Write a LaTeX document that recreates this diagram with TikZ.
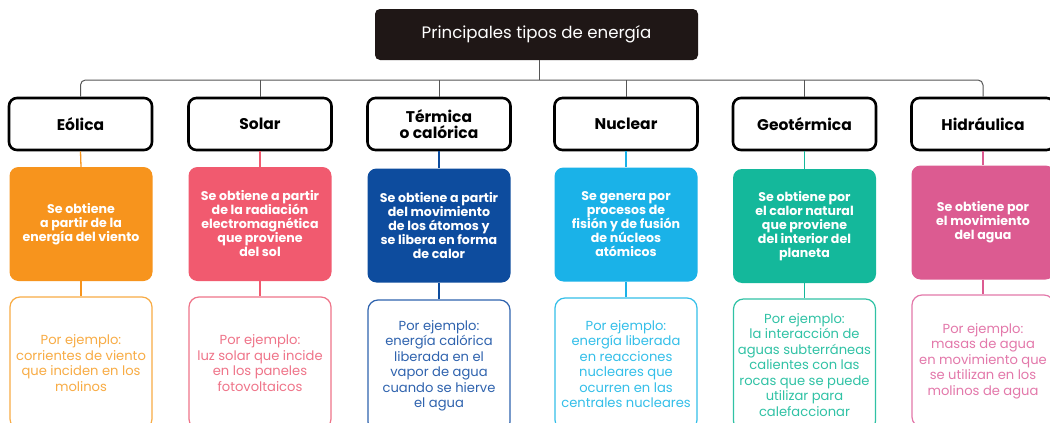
\documentclass[tikz,border=0pt]{standalone}
\usepackage{fontspec}
\setmainfont{Poppins}
\definecolor{ttl}{HTML}{1F1716}
\definecolor{cEol}{HTML}{F7941D}
\definecolor{cSol}{HTML}{F15A6F}
\definecolor{cTer}{HTML}{0D4C9E}
\definecolor{cNuc}{HTML}{1AB2E8}
\definecolor{cGeo}{HTML}{14B89B}
\definecolor{cHid}{HTML}{DC5B91}
\definecolor{lEol}{HTML}{F8AC45}
\definecolor{lSol}{HTML}{EF7489}
\definecolor{lTer}{HTML}{2F63AE}
\definecolor{lNuc}{HTML}{34BFE9}
\definecolor{lGeo}{HTML}{30C2A5}
\definecolor{lHid}{HTML}{E378AA}
\definecolor{bus}{HTML}{555555}
\begin{document}
\begin{tikzpicture}[x=1pt,y=-1pt,
  titlebox/.style={fill=ttl,rounded corners=5pt,minimum width=323pt,minimum height=51pt,inner sep=0pt,text=white,font=\fontsize{16.6}{19}\selectfont},
  typebox/.style={draw=black,line width=2.6pt,rounded corners=8pt,fill=white,minimum width=143pt,minimum height=52pt,inner sep=0pt,align=center,font=\fontsize{15.5}{16}\selectfont\bfseries},
  descbox/.style={fill=#1,rounded corners=9pt,minimum width=143pt,minimum height=114pt,inner sep=0pt,align=center,text=white,font=\fontsize{12.6}{14}\selectfont\bfseries},
  exbox/.style={draw=#1,line width=1.2pt,rounded corners=10pt,fill=white,minimum width=142pt,minimum height=132pt,inner sep=0pt,align=center,text=#1,font=\fontsize{13.1}{15.5}\selectfont},
  link/.style={draw=#1,line width=1.3pt},
  busline/.style={draw=bus,line width=1pt}]
\useasboundingbox (0,0) rectangle (1050,423);
\clip (0,0) rectangle (1050,423);
\fill[white] (0,0) rectangle (1050,423);

\node[titlebox] (title) at (536.5,34.5) {Principales tipos de energía};
\coordinate (bus) at (539,80);

\node[typebox] (eol) at (80.5,124) {Eólica};
\node[typebox] (sol) at (260,124) {Solar};
\node[typebox] (ter) at (439,124) {Térmica\\o calórica};
\node[typebox] (nuc) at (626,124) {Nuclear};
\node[typebox] (geo) at (804.5,124) {Geotérmica};
\node[typebox] (hid) at (983,124) {Hidráulica};

\node[descbox=cEol] (deol) at (81,224) {Se obtiene\\a partir de la\\energía del viento};
\node[descbox=cSol] (dsol) at (260,224) {Se obtiene a partir\\de la radiación\\electromagnética\\que proviene\\del sol};
\node[descbox=cTer] (dter) at (439,225.5) {Se obtiene a partir\\del movimiento\\de los átomos y\\se libera en forma\\de calor};
\node[descbox=cNuc] (dnuc) at (626,224.5) {Se genera por\\procesos de\\fisión y de fusión\\de núcleos\\atómicos};
\node[descbox=cGeo] (dgeo) at (804.5,226) {Se obtiene por\\el calor natural\\que proviene\\del interior del\\planeta};
\node[descbox=cHid] (dhid) at (983,222.5) {Se obtiene por\\el movimiento\\del agua};

\node[exbox=lEol] (xeol) at (81,363) {Por ejemplo:\\corrientes de viento\\que inciden en los\\molinos};
\node[exbox=lSol] (xsol) at (260,363) {Por ejemplo:\\luz solar que incide\\en los paneles\\fotovoltaicos};
\node[exbox=lTer] (xter) at (439,366) {Por ejemplo:\\energía calórica\\liberada en el\\vapor de agua\\cuando se hierve\\el agua};
\node[exbox=lNuc] (xnuc) at (626,364) {Por ejemplo:\\energía liberada\\en reacciones\\nucleares que\\ocurren en las\\centrales nucleares};
\node[exbox=lGeo] (xgeo) at (804.5,365) {Por ejemplo:\\la interacción de\\aguas subterráneas\\calientes con las\\rocas que se puede\\utilizar para\\calefaccionar};
\node[exbox=lHid] (xhid) at (983,361) {Por ejemplo:\\masas de agua\\en movimiento que\\se utilizan en los\\molinos de agua};

% bus
\draw[busline,rounded corners=5pt] (eol.north) -- (eol.north |- bus) -- (hid.north |- bus) -- (hid.north);
\draw[busline] (bus |- title.south) -- (bus);
\foreach \n in {sol,ter,nuc,geo} \draw[busline] (\n.north) -- (\n.north |- bus);

% colored links
\draw[link=cEol] (eol.south) -- (deol.north);
\draw[link=cEol] (deol.south) -- (xeol.north);
\draw[link=cSol] (sol.south) -- (dsol.north);
\draw[link=cSol] (dsol.south) -- (xsol.north);
\draw[link=cTer] (ter.south) -- (dter.north);
\draw[link=cTer] (dter.south) -- (xter.north);
\draw[link=cNuc] (nuc.south) -- (dnuc.north);
\draw[link=cNuc] (dnuc.south) -- (xnuc.north);
\draw[link=cGeo] (geo.south) -- (dgeo.north);
\draw[link=cGeo] (dgeo.south) -- (xgeo.north);
\draw[link=cHid] (hid.south) -- (dhid.north);
\draw[link=cHid] (dhid.south) -- (xhid.north);
\end{tikzpicture}
\end{document}
